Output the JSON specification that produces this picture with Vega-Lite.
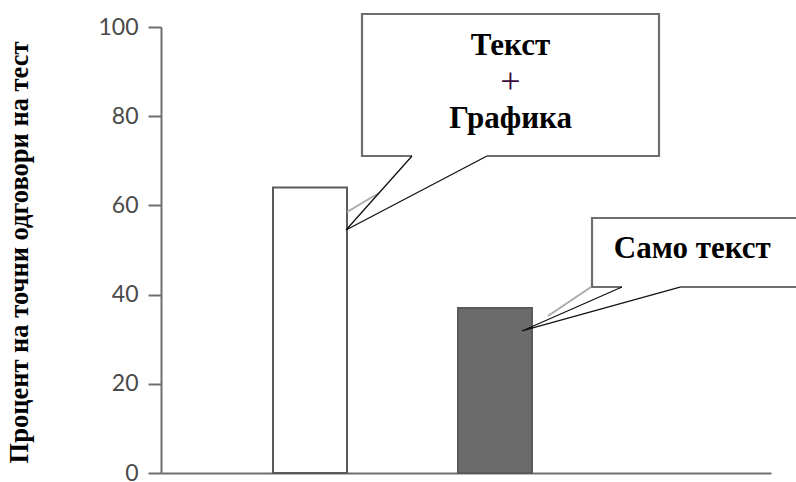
{
  "$schema": "https://vega.github.io/schema/vega-lite/v6.json",
  "autosize": "none",
  "width": 610,
  "height": 446,
  "padding": {"left": 161, "top": 27, "right": 25, "bottom": 9},
  "background": "white",
  "config": {"view": {"stroke": null}},
  "datasets": {
    "bars": [
      {"group": "Текст + Графика", "x1": 18.36, "x2": 30.49, "value": 64},
      {"group": "Само текст", "x1": 48.69, "x2": 60.82, "value": 37}
    ],
    "box": [
      {"callout": "A", "i": 0, "x": 41.15, "y": 71.08},
      {"callout": "A", "i": 1, "x": 32.95, "y": 71.08},
      {"callout": "A", "i": 2, "x": 32.95, "y": 102.91},
      {"callout": "A", "i": 3, "x": 81.64, "y": 102.91},
      {"callout": "A", "i": 4, "x": 81.64, "y": 71.08},
      {"callout": "A", "i": 5, "x": 53.44, "y": 71.08},
      {"callout": "B", "i": 0, "x": 75.57, "y": 41.7},
      {"callout": "B", "i": 1, "x": 70.66, "y": 41.7},
      {"callout": "B", "i": 2, "x": 70.66, "y": 57.17},
      {"callout": "B", "i": 3, "x": 105.57, "y": 57.17},
      {"callout": "B", "i": 4, "x": 105.57, "y": 41.7},
      {"callout": "B", "i": 5, "x": 85.08, "y": 41.7}
    ],
    "pointer": [
      {"callout": "A", "i": 0, "x": 41.15, "y": 71.08},
      {"callout": "A", "i": 1, "x": 30.33, "y": 54.48},
      {"callout": "A", "i": 2, "x": 53.44, "y": 71.08},
      {"callout": "B", "i": 0, "x": 75.57, "y": 41.7},
      {"callout": "B", "i": 1, "x": 59.18, "y": 31.84},
      {"callout": "B", "i": 2, "x": 85.08, "y": 41.7}
    ],
    "shadow": [
      {"callout": "A", "i": 0, "x": 30.49, "y": 58.52},
      {"callout": "A", "i": 1, "x": 35.74, "y": 62.78},
      {"callout": "B", "i": 0, "x": 70.49, "y": 41.7},
      {"callout": "B", "i": 1, "x": 63.44, "y": 35.2}
    ],
    "labels": [
      {"label": "Текст", "x": 57.3, "y": 93.72, "pos": "first"},
      {"label": "+", "x": 57.3, "y": 87.67, "pos": "plus"},
      {"label": "Графика", "x": 57.3, "y": 77.35, "pos": "last"},
      {"label": "Само текст", "x": 87.1, "y": 48.2, "pos": "single"}
    ]
  },
  "layer": [
    {
      "data": {"name": "bars"},
      "mark": {"type": "rect", "stroke": "#5a5a5a", "strokeWidth": 2},
      "encoding": {
        "x": {"field": "x1", "type": "quantitative", "scale": {"domain": [0, 100], "nice": false, "zero": false},
              "axis": {"title": null, "labels": false, "ticks": false, "grid": false, "domainColor": "#707070", "domainWidth": 2}},
        "x2": {"field": "x2"},
        "y": {"field": "value", "type": "quantitative", "scale": {"domain": [0, 100], "nice": false},
              "axis": {
                "title": "Процент на точни одговори на тест",
                "titleFont": "Liberation Serif", "titleFontWeight": "bold", "titleFontSize": 26.5, "titleColor": "#000000",
                "titleBaseline": "alphabetic", "titleAlign": "center", "titleAngle": -90,
                "titleX": -134, "titleY": 225,
                "values": [0, 20, 40, 60, 80, 100],
                "grid": false,
                "labelFont": "Lato", "labelFontSize": 23, "labelColor": "#4a4a4a",
                "labelPadding": 10, "tickSize": 13, "tickWidth": 2, "tickColor": "#6e6e6e",
                "domainColor": "#6e6e6e", "domainWidth": 2
              }},
        "y2": {"datum": 0},
        "fill": {"field": "group", "type": "nominal",
                 "scale": {"domain": ["Текст + Графика", "Само текст"], "range": ["#ffffff", "#6b6b6b"]},
                 "legend": null}
      }
    },
    {
      "data": {"name": "box"},
      "mark": {"type": "line", "stroke": "#6e6e6e", "strokeWidth": 2.2, "strokeJoin": "miter"},
      "encoding": {
        "x": {"field": "x", "type": "quantitative"},
        "y": {"field": "y", "type": "quantitative"},
        "detail": {"field": "callout"},
        "order": {"field": "i", "type": "quantitative"}
      }
    },
    {
      "data": {"name": "shadow"},
      "mark": {"type": "line", "stroke": "#aaaaaa", "strokeWidth": 2},
      "encoding": {
        "x": {"field": "x", "type": "quantitative"},
        "y": {"field": "y", "type": "quantitative"},
        "detail": {"field": "callout"},
        "order": {"field": "i", "type": "quantitative"}
      }
    },
    {
      "data": {"name": "pointer"},
      "mark": {"type": "line", "stroke": "#111111", "strokeWidth": 1.3},
      "encoding": {
        "x": {"field": "x", "type": "quantitative"},
        "y": {"field": "y", "type": "quantitative"},
        "detail": {"field": "callout"},
        "order": {"field": "i", "type": "quantitative"}
      }
    },
    {
      "data": {"name": "labels"},
      "transform": [{"filter": "datum.pos !== 'plus'"}],
      "mark": {"type": "text", "font": "Liberation Serif", "fontWeight": "bold", "fontSize": 31, "color": "#000000", "align": "center", "baseline": "alphabetic"},
      "encoding": {
        "x": {"field": "x", "type": "quantitative"},
        "y": {"field": "y", "type": "quantitative"},
        "text": {"field": "label"}
      }
    },
    {
      "data": {"name": "labels"},
      "transform": [{"filter": "datum.pos === 'plus'"}],
      "mark": {"type": "text", "font": "Liberation Serif", "fontWeight": "normal", "fontSize": 36, "color": "#3a0a3a", "align": "center", "baseline": "middle"},
      "encoding": {
        "x": {"field": "x", "type": "quantitative"},
        "y": {"field": "y", "type": "quantitative"},
        "text": {"field": "label"}
      }
    }
  ]
}
